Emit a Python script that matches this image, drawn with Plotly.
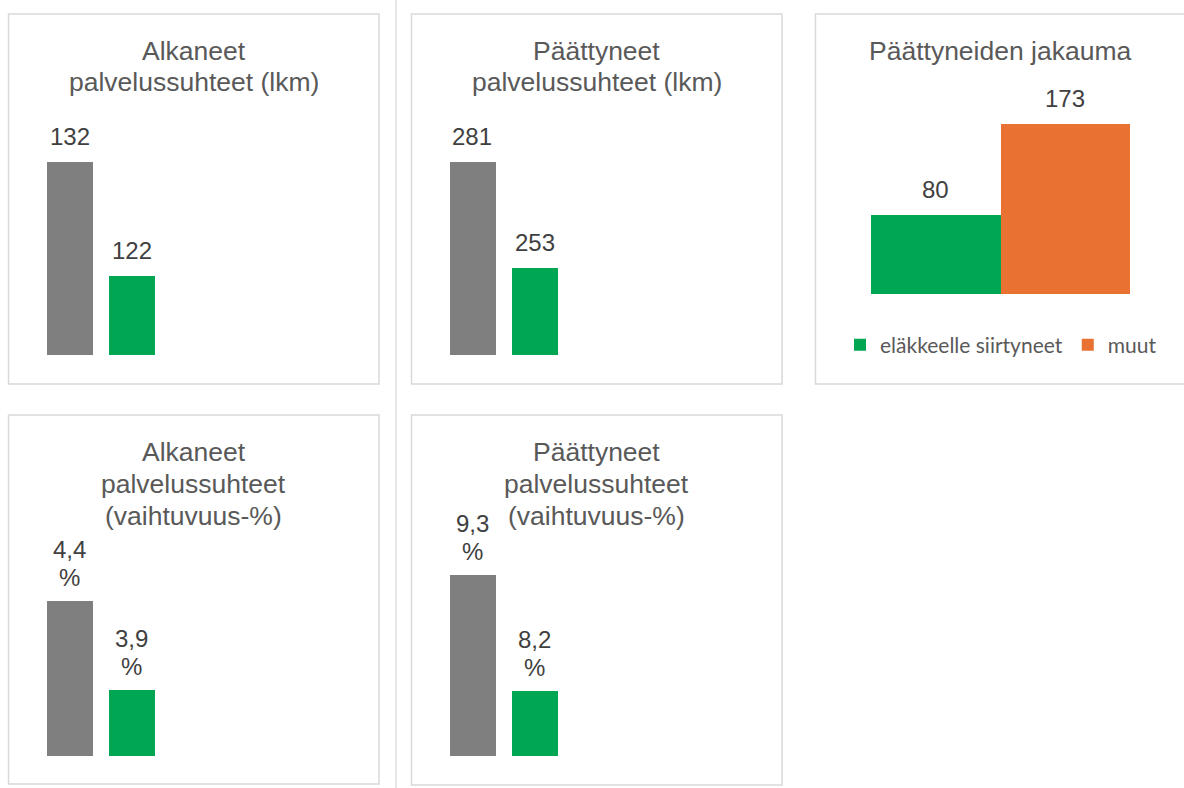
import plotly.graph_objects as go

# ---------------- data ----------------
periods = ["vertailukausi", "raportointikausi"]

alkaneet_lkm = [132, 122]
paattyneet_lkm = [281, 253]
alkaneet_pct = [4.4, 3.9]
paattyneet_pct = [9.3, 8.2]

jakauma_series = ["eläkkeelle siirtyneet", "muut"]
jakauma_values = [80, 173]

titles = [
    ["Alkaneet", "palvelussuhteet (lkm)"],
    ["Päättyneet", "palvelussuhteet (lkm)"],
    ["Päättyneiden jakauma"],
    ["Alkaneet", "palvelussuhteet", "(vaihtuvuus-%)"],
    ["Päättyneet", "palvelussuhteet", "(vaihtuvuus-%)"],
]

# ---------------- style ----------------
W, H = 1184, 788
GRAY = "#7f7f7f"
GREEN = "#00a651"
ORANGE = "#e97132"
BORDER = "#d9d9d9"
TITLE_C = "#595959"
LABEL_C = "#404040"
FONT = "Liberation Sans, Arial, sans-serif"
LABEL_SIZE = 24
LABEL_PITCH = 28
TITLE_SIZE = 26.5


def px(x):
    return x / W


def py(y):
    return 1 - y / H


fig = go.Figure()

# panel geometry (pixels): x domain, y domain (bottom, top), y range
panels = [
    dict(xd=(38.5, 162.5), yd=(355, 128), yr=(115, 135)),
    dict(xd=(441.5, 565.5), yd=(355, 147), yr=(230, 285)),
    dict(xd=(871, 1130), yd=(294, 117), yr=(0, 180)),
    dict(xd=(38.5, 162.5), yd=(756, 565), yr=(3.53, 4.6)),
    dict(xd=(441.5, 565.5), yd=(756, 554), yr=(7.585, 9.5)),
]

layout_axes = {}
for i, p in enumerate(panels, start=1):
    sfx = "" if i == 1 else str(i)
    layout_axes["xaxis" + sfx] = dict(
        domain=[px(p["xd"][0]), px(p["xd"][1])],
        visible=False, fixedrange=True, anchor="y" + sfx,
    )
    layout_axes["yaxis" + sfx] = dict(
        domain=[py(p["yd"][0]), py(p["yd"][1])],
        range=list(p["yr"]), visible=False, fixedrange=True, anchor="x" + sfx,
    )

annotations = []


def add_label(x, y, xref, yref, lines, xshift=0):
    if len(lines) == 1:
        annotations.append(dict(
            x=x, y=y, xref=xref, yref=yref, xshift=xshift,
            text=lines[0], showarrow=False, yanchor="bottom", yshift=10,
            font=dict(family=FONT, size=LABEL_SIZE, color=LABEL_C),
        ))
    else:
        # base size sets the line pitch, inner spans carry the glyph size
        txt = "<br>".join(
            f"<span style='font-size:{LABEL_SIZE}px'>{ln}</span>" for ln in lines)
        annotations.append(dict(
            x=x, y=y, xref=xref, yref=yref, xshift=xshift,
            text=txt, showarrow=False, yanchor="bottom", yshift=8,
            font=dict(family=FONT, size=LABEL_PITCH / 1.3, color=LABEL_C),
        ))


single = [
    (1, alkaneet_lkm, False),
    (2, paattyneet_lkm, False),
    (4, alkaneet_pct, True),
    (5, paattyneet_pct, True),
]

for idx, vals, is_pct in single:
    sfx = "" if idx == 1 else str(idx)
    base = panels[idx - 1]["yr"][0]
    fig.add_trace(go.Bar(
        x=periods, y=[v - base for v in vals], base=base,
        xaxis="x" + sfx, yaxis="y" + sfx,
        marker=dict(color=[GRAY, GREEN], line=dict(width=0)),
        width=0.726, showlegend=False, hoverinfo="skip",
    ))
    for c, v in zip(periods, vals):
        if is_pct:
            lines = [f"{v:.1f}".replace(".", ","), "%"]
        else:
            lines = [str(v)]
        add_label(c, v, "x" + sfx, "y" + sfx, lines)

for name, v, col, sh in zip(jakauma_series, jakauma_values, [GREEN, ORANGE], [-64.75, 64.75]):
    fig.add_trace(go.Bar(
        x=["jakauma"], y=[v], name=name, xaxis="x3", yaxis="y3",
        marker=dict(color=col, line=dict(width=0)), hoverinfo="skip",
    ))
    add_label("jakauma", v, "x3", "y3", [str(v)], xshift=sh)

# titles (one annotation per line for tight line spacing)
title_pos = [(193.5, 50.5), (596.5, 50.5), (1000, 51), (193.5, 451.5), (596.5, 451.5)]
for lines, (tx, ty) in zip(titles, title_pos):
    for k, ln in enumerate(lines):
        annotations.append(dict(
            x=px(tx), y=py(ty + 32 * k), xref="paper", yref="paper",
            text=ln, showarrow=False, xanchor="center", yanchor="middle",
            font=dict(family=FONT, size=TITLE_SIZE, color=TITLE_C),
        ))

# panel borders and separator
shapes = []
for (x0, y0, x1, y1) in [(8.5, 14, 379, 384), (411.5, 14, 782, 384),
                         (815.5, 14, 1190, 384), (8.5, 415, 379, 784),
                         (411.5, 415, 782, 785)]:
    shapes.append(dict(type="rect", xref="paper", yref="paper",
                       x0=px(x0), x1=px(x1), y0=py(y1), y1=py(y0),
                       line=dict(color=BORDER, width=1.5), layer="below"))
shapes.append(dict(type="line", xref="paper", yref="paper",
                   x0=px(396), x1=px(396), y0=0, y1=1,
                   line=dict(color="#e6e6e6", width=2)))

fig.update_layout(
    width=W, height=H,
    margin=dict(l=0, r=0, t=0, b=0),
    paper_bgcolor="white", plot_bgcolor="rgba(0,0,0,0)",
    barmode="group", bargap=0, bargroupgap=0,
    showlegend=True,
    legend=dict(orientation="h", x=px(1001), y=py(345),
                xanchor="center", yanchor="middle",
                font=dict(family="Lato, sans-serif", size=21, color=TITLE_C),
                itemclick=False, itemdoubleclick=False,
                bgcolor="rgba(0,0,0,0)"),
    annotations=annotations,
    shapes=shapes,
    **layout_axes,
)

fig.write_html("out.html", config={"displayModeBar": False},
               post_script="document.body.style.margin='0';")
